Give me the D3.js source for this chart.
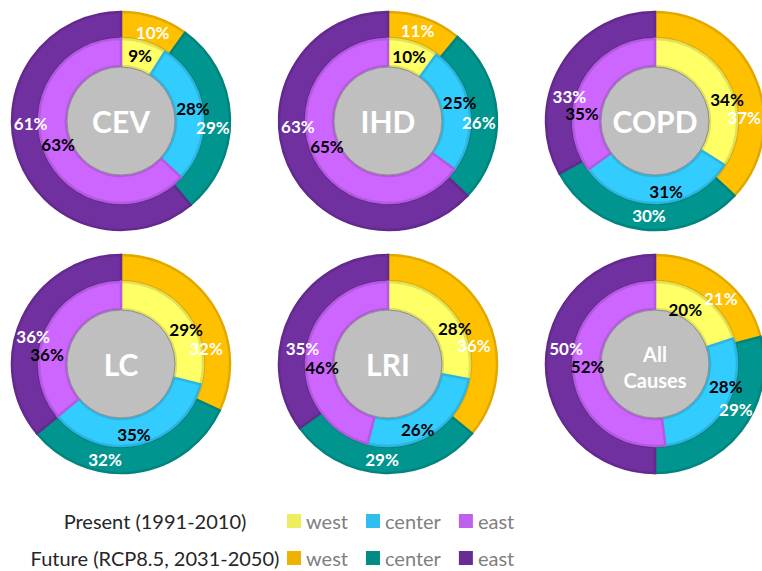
<!DOCTYPE html>
<html>
<head>
<meta charset="utf-8">
<script src="https://cdn.jsdelivr.net/npm/d3@7"></script>
<style>
  body { margin: 0; background: #fff; }
  svg { display: block; font-family: Lato, "Open Sans", sans-serif; }
  .pct { font-weight: bold; font-size: 17px; }
  .name { font-weight: bold; fill: #fff; }
  .legend-title { font-size: 20px; fill: #262626; }
  .legend-item { font-size: 20px; fill: #7f7f7f; }
</style>
</head>
<body>
<svg id="chart" width="762" height="571"></svg>
<script>
// DATA: share of deaths by region (%), present vs future
const causes = ["CEV", "IHD", "COPD", "LC", "LRI", "All Causes"];
const regions = ["west", "center", "east"];
const present = [[9, 28, 63], [10, 25, 65], [34, 31, 35], [29, 35, 36], [28, 26, 46], [20, 28, 52]];
const future = [[10, 29, 61], [11, 26, 63], [37, 30, 33], [32, 32, 36], [36, 29, 35], [21, 29, 50]];
const periods = ["Present (1991-2010)", "Future (RCP8.5, 2031-2050)"];

// LAYOUT: small nudges of the data labels away from the arc centroids
const presentNudge = [
  [[0, 0], [4, -4], [0, -4]],
  [[0, 1], [4, -8], [0, -6]],
  [[12, 11], [9, 2], [-12, 24]],
  [[11, 7], [-2, 4], [-12, 20]],
  [[14, 8], [-7, 8], [2, 12]],
  [[-10, 1], [13, -14], [1, -2]]
];
const futureNudge = [
  [[2, 3], [-4, 9], [0, -30]],
  [[-3, 0], [-5, 8], [-2, -33]],
  [[1, 35], [6, -1], [-3, 24]],
  [[4, 36], [-28, 0], [-1, 13]],
  [[-1, 22], [-3, 0], [0, 28]],
  [[7, 10], [5, -13], [7, -16]]
];

const presentColors = ["#FFFF66", "#33CCFF", "#CC66FF"];
const futureColors = ["#FFC000", "#00968F", "#7030A0"];

const svg = d3.select("#chart");

// grid of donuts
const colX = d3.scalePoint().domain([0, 1, 2]).range([121, 655]);
const rowY = d3.scalePoint().domain([0, 1]).range([121, 364]);

const pie = d3.pie().sort(null).value(d => d);
const outerArc = d3.arc().innerRadius(83).outerRadius(109);
const innerArc = d3.arc().innerRadius(55).outerRadius(82);

causes.forEach((cause, i) => {
  const g = svg.append("g")
    .attr("transform", `translate(${colX(i % 3)},${rowY(Math.floor(i / 3))})`);

  const rings = [
    { vals: future[i], arc: outerArc, colors: futureColors, nudge: futureNudge[i], text: "#fff" },
    { vals: present[i], arc: innerArc, colors: presentColors, nudge: presentNudge[i], text: "#000" }
  ];

  rings.forEach(r => {
    const arcs = pie(r.vals);
    g.selectAll(null)
      .data(arcs)
      .join("path")
      .attr("d", r.arc)
      .attr("fill", (d, j) => r.colors[j])
      .attr("stroke", (d, j) => d3.color(r.colors[j]).darker(0.35))
      .attr("stroke-width", 2.5);
  });

  // grey centre
  g.append("circle")
    .attr("r", 54)
    .attr("fill", "#BFBFBF")
    .attr("stroke", "#8C8C8C")
    .attr("stroke-width", 1);

  // labels on top
  rings.forEach(r => {
    const arcs = pie(r.vals);
    g.selectAll(null)
      .data(arcs)
      .join("text")
      .attr("class", "pct")
      .attr("x", (d, j) => r.arc.centroid(d)[0] + r.nudge[j][0])
      .attr("y", (d, j) => r.arc.centroid(d)[1] + r.nudge[j][1])
      .attr("text-anchor", "middle")
      .attr("dominant-baseline", "central")
      .attr("fill", r.text)
      .text(d => d.data + "%");
  });

  // cause name
  const words = cause.split(" ");
  const name = g.append("text")
    .attr("class", "name")
    .attr("text-anchor", "middle")
    .attr("font-size", words.length > 1 ? 20 : 30);
  words.forEach((w, k) => {
    name.append("tspan")
      .attr("x", 0)
      .attr("y", words.length > 1 ? (k === 0 ? -10 : 16) : 0)
      .attr("dominant-baseline", "central")
      .text(w);
  });
});

// LEGEND
const legendRowY = d3.scalePoint().domain([0, 1]).range([521, 558]);
[presentColors, futureColors].forEach((colors, r) => {
  const y = legendRowY(r);
  svg.append("text")
    .attr("class", "legend-title")
    .attr("x", 155)
    .attr("y", y)
    .attr("text-anchor", "middle")
    .attr("dominant-baseline", "central")
    .text(periods[r]);
  let x = 287;
  regions.forEach((reg, j) => {
    svg.append("rect")
      .attr("x", x)
      .attr("y", y - 7)
      .attr("width", 14)
      .attr("height", 14)
      .attr("fill", d3.color(colors[j]).darker(0.2));
    const t = svg.append("text")
      .attr("class", "legend-item")
      .attr("x", x + 19)
      .attr("y", y)
      .attr("dominant-baseline", "central")
      .text(reg);
    x += 19 + t.node().getComputedTextLength() + 18;
  });
});
</script>
</body>
</html>
